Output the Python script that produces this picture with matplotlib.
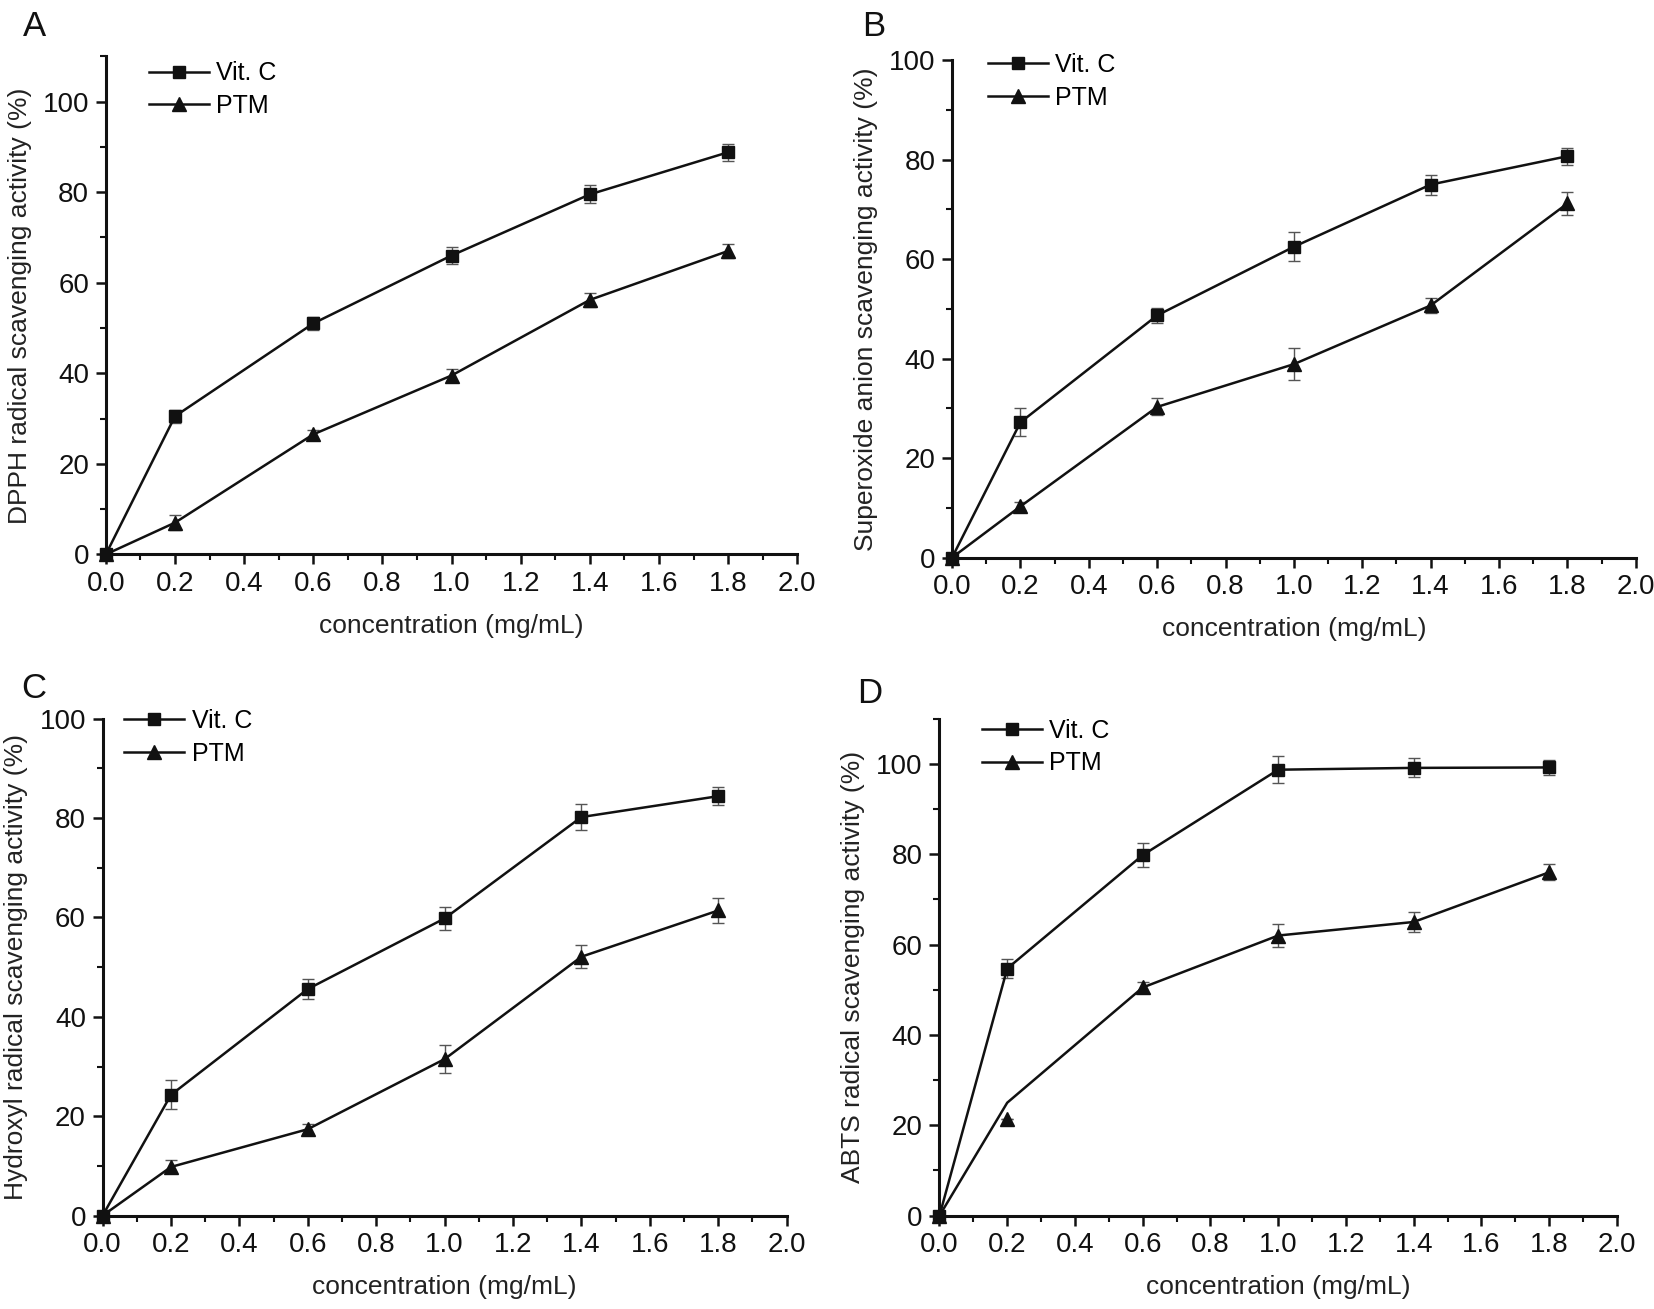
import matplotlib
matplotlib.use("Agg")
import matplotlib.pyplot as plt
from matplotlib.ticker import MultipleLocator
from matplotlib import font_manager

names = {f.name for f in font_manager.fontManager.ttflist}
fam = ["Liberation Sans Narrow", "Liberation Sans", "DejaVu Sans"]
fam = [f for f in fam if f in names] or ["DejaVu Sans"]
plt.rcParams["font.family"] = fam

# ---------------- data ----------------
conc = [0.0, 0.2, 0.6, 1.0, 1.4, 1.8]

dpph_vitc = [0, 30.5, 51.0, 66.0, 79.5, 88.8]
dpph_vitc_err = [0, 1.4, 1.5, 1.8, 2.0, 1.9]
dpph_ptm = [0, 7.0, 26.5, 39.5, 56.2, 67.0]
dpph_ptm_err = [0, 1.6, 1.0, 1.5, 1.5, 1.6]

sup_vitc = [0, 27.2, 48.7, 62.5, 75.0, 80.7]
sup_vitc_err = [0, 2.8, 1.5, 2.9, 2.0, 1.7]
sup_ptm = [0, 10.3, 30.3, 38.9, 50.7, 71.2]
sup_ptm_err = [0, 0.8, 1.7, 3.2, 1.5, 2.3]

hyd_vitc = [0, 24.3, 45.6, 59.8, 80.2, 84.4]
hyd_vitc_err = [0, 2.9, 2.0, 2.4, 2.6, 1.8]
hyd_ptm = [0, 9.8, 17.4, 31.5, 52.1, 61.4]
hyd_ptm_err = [0, 1.3, 1.0, 2.8, 2.3, 2.6]

abts_vitc = [0, 54.7, 79.8, 98.7, 99.1, 99.2]
abts_vitc_err = [0, 2.2, 2.6, 3.0, 2.1, 1.7]
abts_ptm_line = [0, 25.0, 50.5, 62.0, 65.0, 76.0]
abts_ptm = [0, 21.5, 50.5, 62.0, 65.0, 76.0]
abts_ptm_err = [0, 0.0, 1.2, 2.6, 2.3, 1.8]

panel_letters = ["A", "B", "C", "D"]
ylabels = ["DPPH radical scavenging activity (%)",
           "Superoxide anion scavenging activity (%)",
           "Hydroxyl radical scavenging activity (%)",
           "ABTS radical scavenging activity (%)"]
xlabel = "concentration (mg/mL)"
series_names = ["Vit. C", "PTM"]

# ---------------- layout ----------------
fig = plt.figure(figsize=(16.54, 13.09), dpi=100)

rects = [
    [0.064, 0.5765, 0.418, 0.3805],
    [0.5756, 0.574, 0.4134, 0.380],
    [0.062, 0.0713, 0.4136, 0.3797],
    [0.568, 0.0713, 0.4096, 0.3797],
]
ylims = [110, 100, 100, 110]
letter_pos = [(0.014, 0.980), (0.521, 0.980), (0.013, 0.474), (0.518, 0.470)]

data = [
    (dpph_vitc, dpph_vitc_err, dpph_ptm, dpph_ptm, dpph_ptm_err),
    (sup_vitc, sup_vitc_err, sup_ptm, sup_ptm, sup_ptm_err),
    (hyd_vitc, hyd_vitc_err, hyd_ptm, hyd_ptm, hyd_ptm_err),
    (abts_vitc, abts_vitc_err, abts_ptm_line, abts_ptm, abts_ptm_err),
]

legend_pos = [(0.04, 1.02), (0.03, 1.045), (0.01, 1.05), (0.04, 1.03)]

for i, rect in enumerate(rects):
    ax = fig.add_axes(rect)
    vc, vce, pl, pm, pe = data[i]
    # Vit. C
    ax.errorbar(conc, vc, yerr=vce, fmt="none", ecolor="#555555",
                elinewidth=1.0, capsize=4, capthick=1.0, zorder=2)
    ax.plot(conc, vc, "-", color="#111111", lw=1.8, zorder=3)
    ax.plot(conc, vc, "s", color="#111111", ms=9, zorder=4, clip_on=False)
    # PTM
    ax.errorbar(conc, pm, yerr=pe, fmt="none", ecolor="#555555",
                elinewidth=1.0, capsize=4, capthick=1.0, zorder=2)
    ax.plot(conc, pl, "-", color="#111111", lw=1.8, zorder=3)
    ax.plot(conc, pm, "^", color="#111111", ms=10, zorder=4, clip_on=False)

    # legend proxies
    h1, = ax.plot([], [], "-s", color="#111111", lw=1.8, ms=9)
    h2, = ax.plot([], [], "-^", color="#111111", lw=1.8, ms=10)
    ax.legend([h1, h2], series_names, loc="upper left",
              bbox_to_anchor=legend_pos[i], frameon=False, fontsize=18,
              handlelength=2.4, handletextpad=0.3, labelspacing=0.35,
              borderaxespad=0.2)

    ax.set_xlim(0, 2.0)
    ax.set_ylim(0, ylims[i])
    ax.xaxis.set_minor_locator(MultipleLocator(0.1))
    ax.yaxis.set_minor_locator(MultipleLocator(10))
    ax.set_xticks([0.0, 0.2, 0.4, 0.6, 0.8, 1.0, 1.2, 1.4, 1.6, 1.8, 2.0])
    ax.set_xticklabels(["0.0", "0.2", "0.4", "0.6", "0.8", "1.0", "1.2",
                        "1.4", "1.6", "1.8", "2.0"])
    yt = list(range(0, 101, 20))
    ax.set_yticks(yt)
    ax.set_yticklabels([str(v) for v in yt])
    for s in ["top", "right"]:
        ax.spines[s].set_visible(False)
    for s in ["left", "bottom"]:
        ax.spines[s].set_linewidth(2.2)
        ax.spines[s].set_color("#111111")
    ax.tick_params(which="major", direction="out", length=7, width=1.8,
                   labelsize=20, colors="#111111", pad=5)
    ax.tick_params(which="minor", direction="out", length=4, width=1.5,
                   colors="#111111")
    ax.set_xlabel(xlabel, fontsize=19, labelpad=12, color="#222222")
    ax.set_ylabel(ylabels[i], fontsize=19, labelpad=8, color="#222222")
    fig.text(letter_pos[i][0], letter_pos[i][1], panel_letters[i],
             fontsize=25, color="#111111", ha="left", va="center",
             family=["Liberation Sans", "DejaVu Sans"])

fig.savefig("out.png", dpi=100, facecolor="white")
